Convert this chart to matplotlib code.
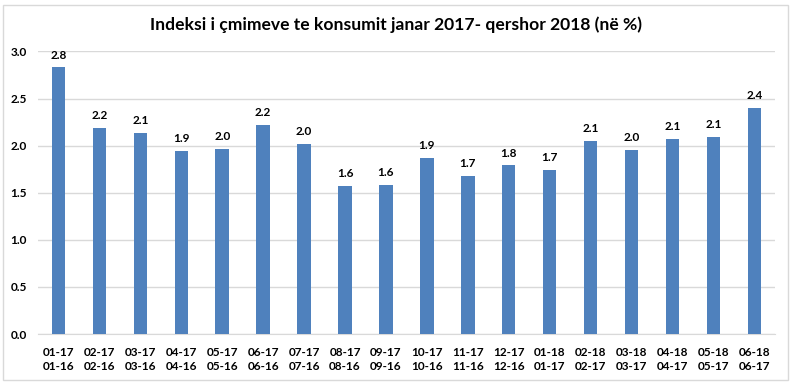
import matplotlib.pyplot as plt
from matplotlib.patches import Rectangle
import numpy as np

periudha = ['01-17\n01-16', '02-17\n02-16', '03-17\n03-16', '04-17\n04-16', '05-17\n05-16',
            '06-17\n06-16', '07-17\n07-16', '08-17\n08-16', '09-17\n09-16', '10-17\n10-16',
            '11-17\n11-16', '12-17\n12-16', '01-18\n01-17', '02-18\n02-17', '03-18\n03-17',
            '04-18\n04-17', '05-18\n05-17', '06-18\n06-17']
inflacioni = [2.83, 2.19, 2.13, 1.94, 1.96, 2.22, 2.02, 1.57, 1.58, 1.87,
              1.68, 1.79, 1.74, 2.05, 1.95, 2.07, 2.09, 2.40]
etiketa = ['2.8', '2.2', '2.1', '1.9', '2.0', '2.2', '2.0', '1.6', '1.6', '1.9',
           '1.7', '1.8', '1.7', '2.1', '2.0', '2.1', '2.1', '2.4']

plt.rcParams['font.family'] = ['Lato', 'DejaVu Sans']

fig = plt.figure(figsize=(7.93, 3.84), dpi=100)
# kuadri i grafikut
fig.patches.append(Rectangle((0.004, 0.01), 0.99, 0.978, transform=fig.transFigure,
                             fill=False, edgecolor='#D9D9D9', linewidth=1))
ax = fig.add_axes([0.048, 0.13, 0.929, 0.736])

x = np.arange(len(inflacioni))
ax.bar(x, inflacioni, width=0.33, color='#4F81BD', zorder=3)
for xi, v, t in zip(x, inflacioni, etiketa):
    ax.annotate(t, (xi, v), xytext=(0, 5), textcoords='offset points',
                ha='center', va='bottom', fontsize=8.5, fontweight='bold')

ax.set_xlim(-0.5, len(x) - 0.5)
ax.set_ylim(0, 3.0)
ax.set_yticks(np.arange(0, 3.01, 0.5))
ax.set_yticklabels(['%.1f' % v for v in np.arange(0, 3.01, 0.5)], fontsize=8.5, fontweight='bold')
ax.set_xticks(x)
ax.set_xticklabels(periudha, fontsize=8.5, fontweight='bold', linespacing=1.4)
ax.tick_params(axis='both', length=0)
ax.tick_params(axis='x', pad=9)
ax.tick_params(axis='y', pad=8)
ax.grid(axis='y', color='#D9D9D9', linewidth=1, zorder=0)
for s in ['top', 'right', 'left']:
    ax.spines[s].set_visible(False)
ax.spines['bottom'].set_color('#D9D9D9')

fig.text(0.5, 0.935, 'Indeksi i çmimeve te konsumit janar 2017- qershor 2018 (në %)',
         ha='center', va='center', fontsize=12.6, fontweight='bold')

plt.savefig('out.png', dpi=100)
